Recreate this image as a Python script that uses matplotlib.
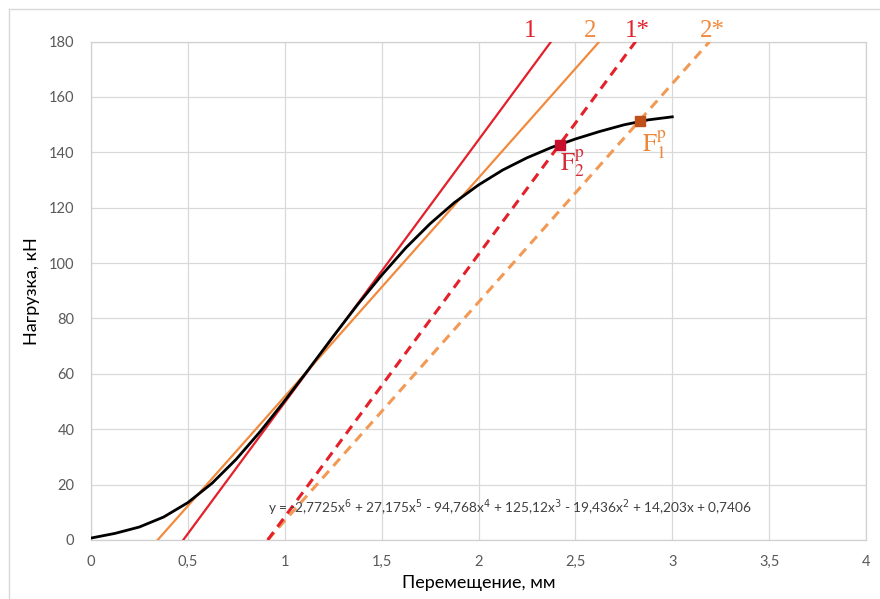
import matplotlib.pyplot as plt
from matplotlib.lines import Line2D

plt.rcParams["font.family"] = ["Lato", "DejaVu Sans"]

# black curve
disp = [0, 0.125, 0.25, 0.375, 0.5, 0.625, 0.75, 0.875, 1.0, 1.125, 1.25, 1.375,
        1.5, 1.625, 1.75, 1.875, 2.0, 2.125, 2.25, 2.375, 2.5, 2.625, 2.75, 2.875, 3.0]
load = [0.7, 2.4, 4.7, 8.3, 13.5, 20.5, 29.2, 39.3, 50.3, 61.8, 73.5, 84.9,
        95.6, 105.5, 114.2, 121.8, 128.2, 133.6, 138.0, 141.7, 144.8, 147.5, 149.9, 151.7, 152.8]

# straight lines: (x0, y0) -> (x1, y1)
line1_x = [0.476, 2.375]
line1_y = [0, 180]
line2_x = [0.344, 2.624]
line2_y = [0, 180]
line1s_x = [0.912, 2.811]
line1s_y = [0, 180]
line2s_x = [0.912, 3.193]
line2s_y = [0, 180]

# points F2, F1
f2 = (2.419, 142.8)
f1 = (2.831, 151.2)

xticks = [0, 0.5, 1, 1.5, 2, 2.5, 3, 3.5, 4]
xtick_labels = ["0", "0,5", "1", "1,5", "2", "2,5", "3", "3,5", "4"]
yticks = [0, 20, 40, 60, 80, 100, 120, 140, 160, 180]

red = "#e4202a"
orange = "#f28a3e"
orange_d = "#f29a55"

fig = plt.figure(figsize=(8.8, 5.99), dpi=100)
ax = fig.add_axes([0.1034, 0.0985, 0.8807, 0.8322])

ax.plot(line1_x, line1_y, color=red, lw=1.6, zorder=3)
ax.plot(line2_x, line2_y, color=orange, lw=1.6, zorder=3)
ax.plot(line2s_x, line2s_y, color=orange_d, lw=2.2, dashes=(3.2, 2.2), zorder=3)
ax.plot(line1s_x, line1s_y, color=red, lw=2.2, dashes=(3.2, 2.2), zorder=3)
ax.plot(disp, load, color="black", lw=2.0, zorder=4, solid_joinstyle="round")

ax.plot([f2[0]], [f2[1]], marker="s", ms=7, color="#c8102e", zorder=5)
ax.plot([f1[0]], [f1[1]], marker="s", ms=7, color="#c0501a", zorder=5)

ax.text(2.423, 133.3, r"$\mathrm{F}_2^\mathrm{p}$", color="#d42c3a", fontsize=18,
        math_fontfamily="stix", ha="left", va="baseline")
ax.text(2.845, 140.1, r"$\mathrm{F}_1^\mathrm{p}$", color="#ec8638", fontsize=18,
        math_fontfamily="stix", ha="left", va="baseline")

for lab, xx, col in [("1", 2.268, red), ("2", 2.577, orange), ("1*", 2.82, red), ("2*", 3.206, orange)]:
    ax.text(xx, 181.6, lab, color=col, fontsize=18, family="Liberation Serif",
            ha="center", va="baseline", clip_on=False)

eq = (r"y = -2,7725x$^6$ + 27,175x$^5$ - 94,768x$^4$ + 125,12x$^3$"
      r" - 19,436x$^2$ + 14,203x + 0,7406")
ax.text(2.165, 11.7, eq, color="#404040", fontsize=9.8, ha="center", va="center",
        math_fontfamily="dejavusans")

ax.set_xlim(0, 4)
ax.set_ylim(0, 180)
ax.set_xticks(xticks)
ax.set_xticklabels(xtick_labels)
ax.set_yticks(yticks)
ax.tick_params(length=0, labelsize=10.5, colors="#595959")
ax.tick_params(axis="x", pad=11)
ax.tick_params(axis="y", pad=12)
ax.grid(True, color="#d9d9d9", lw=0.9)
ax.set_axisbelow(True)
for s in ax.spines.values():
    s.set_color("#d0d0d0")
    s.set_linewidth(0.9)

ax.set_xlabel("Перемещение, мм", fontsize=13, color="black", labelpad=4)
ax.set_ylabel("Нагрузка, кН", fontsize=13, color="black", labelpad=6)

# outer chart frame
fig.add_artist(Line2D([9 / 880, 1], [1 - 9 / 599, 1 - 9 / 599], color="#d9d9d9", lw=1))
fig.add_artist(Line2D([9 / 880, 9 / 880], [0, 1 - 9 / 599], color="#d9d9d9", lw=1))

fig.savefig("out.png", dpi=100)
